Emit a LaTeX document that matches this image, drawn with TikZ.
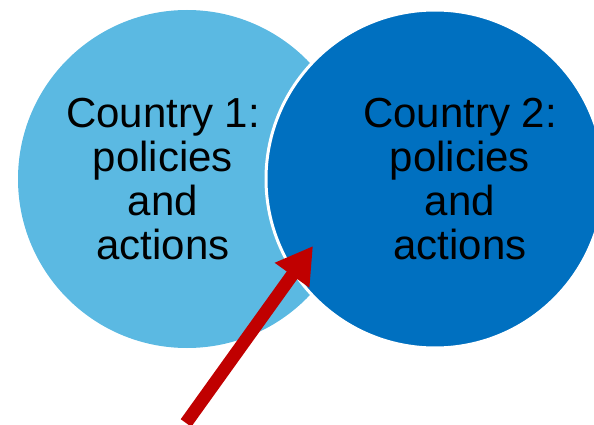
\documentclass[tikz,border=0pt]{standalone}
\usepackage{fontspec}
\setmainfont{Liberation Sans}
\usetikzlibrary{arrows.meta}
\definecolor{lightblue}{HTML}{5BB9E2}
\definecolor{darkblue}{HTML}{0070C0}
\definecolor{arrowred}{HTML}{C00000}
\tikzset{
  blob/.style={circle, minimum size=338pt, inner sep=0pt},
  label text/.style={align=center, font=\fontsize{42}{44}\selectfont, text=black},
  bigarrow/.style={arrowred, line width=13pt, line cap=butt, -{Triangle[length=36pt,width=40pt]}}
}
\begin{document}
\begin{tikzpicture}[x=1pt,y=-1pt]
\useasboundingbox (0,0) rectangle (594,425);
\clip (0,0) rectangle (594,425);
\node[blob, fill=lightblue] (c1) at (187,179) {};
\node[blob, fill=darkblue, draw=white, line width=3pt] (c2) at (435,179) {};
\node[label text] (t1) at (163,179) {Country 1:\\policies\\and\\actions};
\node[label text] (t2) at (460,179) {Country 2:\\policies\\and\\actions};
\coordinate (tail) at (186,423);
\coordinate (tip) at (313,246);
\draw[bigarrow] (tail) -- (tip);
\end{tikzpicture}
\end{document}
